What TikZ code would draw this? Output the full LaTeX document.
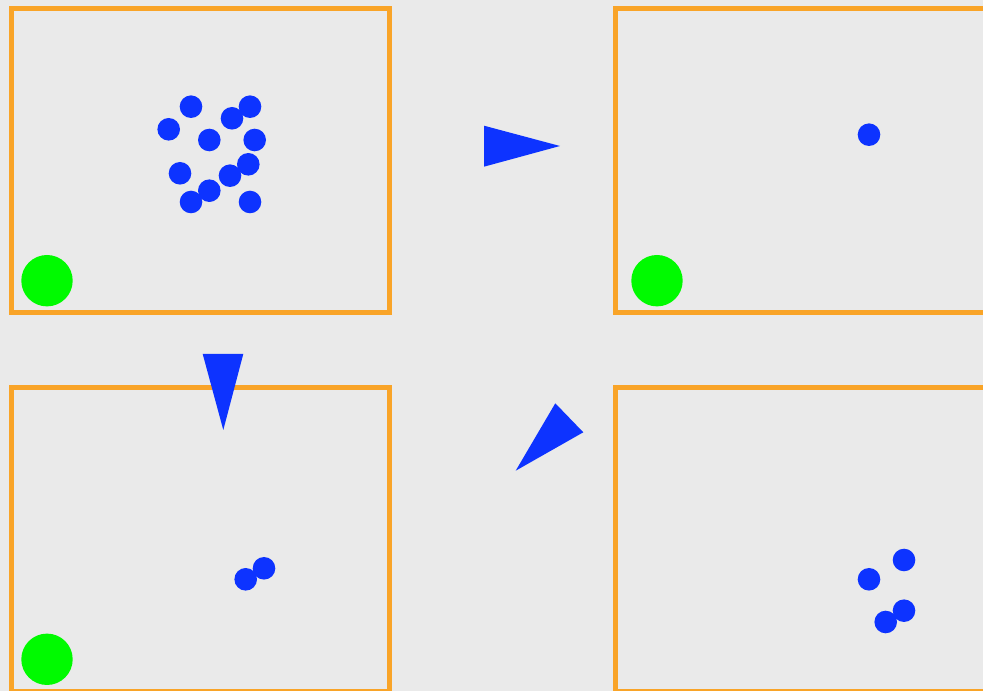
\documentclass[tikz,border=0pt]{standalone}
\usepackage{tikz}
\definecolor{bggrey}{RGB}{234,234,234}
\definecolor{frameorange}{RGB}{249,164,40}
\definecolor{dotblue}{RGB}{13,51,255}
\definecolor{goalgreen}{RGB}{0,250,0}

\begin{document}
\begin{tikzpicture}[
  x=0.75pt, y=-0.75pt,
  frame/.style={draw=frameorange, line width=3.75pt},
  dot/.style={fill=dotblue},
  goal/.style={fill=goalgreen},
  pointer/.style={fill=dotblue}]

% --- canvas
\clip (0,0) rectangle (983,691);
\fill[bggrey] (0,0) rectangle (983,691);

% --- four panels: top-left, top-right, bottom-left, bottom-right
\draw[frame] (11.7,8.5) rectangle (389.3,312.3);
\draw[frame] (615.5,8.5) rectangle (1000,312.3);
\draw[frame] (11.7,387.3) rectangle (389.3,691.1);
\draw[frame] (615.5,387.3) rectangle (1000,691.1);

% --- green targets
\foreach \gx/\gy in {47/280.7, 657/280.7, 47/659.3}
  \fill[goal] (\gx,\gy) circle (25.7);

% --- blue particles, top-left panel
\foreach \px/\py in {191/106.7, 250/106.7, 168.7/129.3, 232/118.3,
                     209.3/140, 254.7/140, 180/173.3, 248.3/164.3,
                     230/175.7, 209.3/190.7, 191/202, 250/202}
  \fill[dot] (\px,\py) circle (11.3);

% --- top-right panel
\fill[dot] (869,134.7) circle (11.3);

% --- bottom-left panel
\foreach \px/\py in {245.7/579.3, 264/568.3}
  \fill[dot] (\px,\py) circle (11.3);

% --- bottom-right panel
\foreach \px/\py in {904/560, 869/579.3, 904/610.7, 885.7/622}
  \fill[dot] (\px,\py) circle (11.3);

% --- pointers between panels
\fill[pointer] (484,125.7) -- (484,166.7) -- (560,146) -- cycle;
\fill[pointer] (202.7,354) -- (243.3,354) -- (223.3,430) -- cycle;
\fill[pointer] (555.3,403.3) -- (583.3,432.3) -- (515.7,470.7) -- cycle;
\end{tikzpicture}
\end{document}
